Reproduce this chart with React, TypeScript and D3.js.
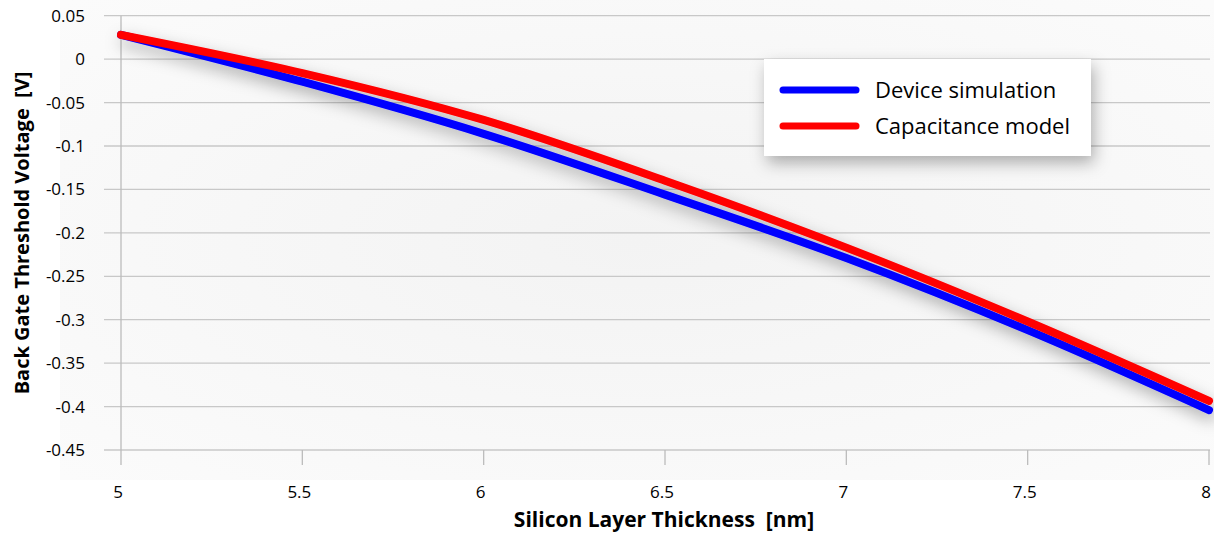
import { useEffect, useRef } from 'react';
import * as d3 from 'd3';

// silicon layer thickness [nm]
const thickness = [5, 5.5, 6, 6.5, 7, 7.5, 8];
// back gate threshold voltage [V]
const deviceSimulation = [0.028, -0.026, -0.086, -0.156, -0.229, -0.312, -0.404];
const capacitanceModel = [0.028, -0.016, -0.07, -0.14, -0.217, -0.302, -0.3935];
const seriesNames = ['Device simulation', 'Capacitance model'];
const seriesColors = ['#0000ff', '#ff0000'];
const xTicks = [5, 5.5, 6, 6.5, 7, 7.5, 8];
const yTicks = [0.05, 0, -0.05, -0.1, -0.15, -0.2, -0.25, -0.3, -0.35, -0.4, -0.45];

const FONT = "'Open Sans', 'DejaVu Sans', sans-serif";

const App = () => {
    const ref = useRef<SVGSVGElement>(null);

    useEffect(() => {
        const width = 1214;
        const height = 533;
        const left = 121;
        const right = 1209;
        const top = 15.7;
        const bottom = 450;

        const svg = d3.select(ref.current);
        svg.selectAll('*').remove();
        svg.attr('width', width).attr('height', height);

        const defs = svg.append('defs');
        const shadow = defs.append('filter').attr('id', 'shadow')
            .attr('x', '-10%').attr('y', '-20%').attr('width', '130%').attr('height', '160%');
        shadow.append('feDropShadow')
            .attr('dx', 3).attr('dy', 7).attr('stdDeviation', 8)
            .attr('flood-color', '#000').attr('flood-opacity', 0.3);

        const grad = defs.append('radialGradient').attr('id', 'bg')
            .attr('cx', '50%').attr('cy', '50%').attr('r', '70%');
        grad.append('stop').attr('offset', '0%').attr('stop-color', '#f3f3f3');
        grad.append('stop').attr('offset', '100%').attr('stop-color', '#fbfbfb');

        svg.append('rect').attr('width', width).attr('height', height).attr('fill', '#ffffff');
        svg.append('rect')
            .attr('x', 60).attr('y', 0).attr('width', width - 60).attr('height', 480)
            .attr('fill', 'url(#bg)');

        const x = d3.scaleLinear().domain([5, 8]).range([left, right]);
        const y = d3.scaleLinear().domain([0.05, -0.45]).range([top, bottom]);

        // horizontal gridlines with left tick stubs
        svg.append('g')
            .selectAll('line')
            .data(yTicks)
            .join('line')
            .attr('x1', 104)
            .attr('x2', right + 1)
            .attr('y1', d => y(d))
            .attr('y2', d => y(d))
            .attr('stroke', '#c8c8c8')
            .attr('stroke-width', 1.3);

        // vertical axis line
        svg.append('line')
            .attr('x1', left).attr('x2', left)
            .attr('y1', top).attr('y2', 465)
            .attr('stroke', '#bcbcbc').attr('stroke-width', 1.3);

        // x tick marks
        svg.append('g')
            .selectAll('line')
            .data(xTicks.slice(1))
            .join('line')
            .attr('x1', d => x(d))
            .attr('x2', d => x(d))
            .attr('y1', bottom)
            .attr('y2', 465)
            .attr('stroke', '#bcbcbc')
            .attr('stroke-width', 1.3);

        svg.append('g')
            .attr('font-family', FONT)
            .attr('font-size', 17)
            .attr('text-anchor', 'end')
            .selectAll('text')
            .data(yTicks)
            .join('text')
            .attr('x', 85)
            .attr('y', d => y(d) + 6)
            .text(d => String(+d.toFixed(2)));

        svg.append('g')
            .attr('font-family', FONT)
            .attr('font-size', 17)
            .attr('text-anchor', 'middle')
            .selectAll('text')
            .data(xTicks)
            .join('text')
            .attr('x', d => x(d) - 3)
            .attr('y', 498)
            .text(d => String(d));

        svg.append('text')
            .attr('x', 664).attr('y', 527)
            .attr('text-anchor', 'middle')
            .attr('font-family', FONT)
            .attr('font-weight', 'bold')
            .attr('font-size', 21)
            .attr('xml:space', 'preserve')
            .text('Silicon Layer Thickness  [nm]');

        svg.append('text')
            .attr('transform', 'translate(29,233) rotate(-90)')
            .attr('text-anchor', 'middle')
            .attr('font-family', FONT)
            .attr('font-weight', 'bold')
            .attr('font-size', 20)
            .attr('xml:space', 'preserve')
            .text('Back Gate Threshold Voltage  [V]');

        const line = d3.line<number>()
            .x((_, i) => x(thickness[i]))
            .y(d => y(d))
            .curve(d3.curveMonotoneX);

        const lines = svg.append('g').attr('filter', 'url(#shadow)');
        [deviceSimulation, capacitanceModel].forEach((s, i) => {
            lines.append('path')
                .attr('d', line(s))
                .attr('fill', 'none')
                .attr('stroke', seriesColors[i])
                .attr('stroke-width', 8)
                .attr('stroke-linecap', 'round')
                .attr('stroke-linejoin', 'round');
        });

        // legend
        const lg = svg.append('g');
        lg.append('rect')
            .attr('x', 764).attr('y', 59).attr('width', 327).attr('height', 97)
            .attr('fill', '#ffffff')
            .attr('filter', 'url(#shadow)');
        seriesNames.forEach((name, i) => {
            const ly = 90 + i * 36;
            lg.append('line')
                .attr('x1', 783).attr('x2', 856)
                .attr('y1', ly).attr('y2', ly)
                .attr('stroke', seriesColors[i])
                .attr('stroke-width', 7)
                .attr('stroke-linecap', 'round');
            lg.append('text')
                .attr('x', 875).attr('y', ly + 8)
                .attr('font-family', FONT)
                .attr('font-size', 22)
                .text(name);
        });
    }, []);

    return (
        <div style={{ position: 'absolute', left: 0, top: 0 }}>
            <svg ref={ref} style={{ display: 'block' }} />
        </div>
    );
};

export default App;
